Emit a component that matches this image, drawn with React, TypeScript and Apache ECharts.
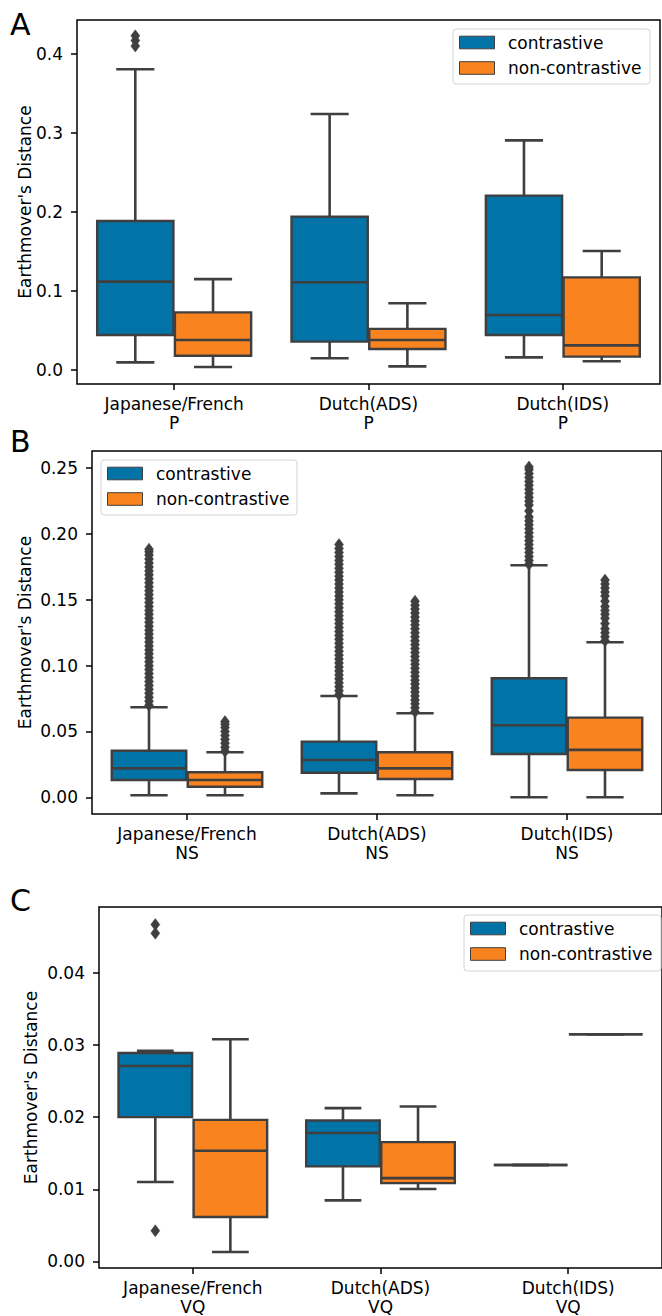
import React, { useEffect, useRef } from "react";
import * as echarts from "echarts";

// ---------- data ----------
const hues = ["contrastive", "non-contrastive"];
const categoriesA = ["Japanese/French\nP", "Dutch(ADS)\nP", "Dutch(IDS)\nP"];
const categoriesB = ["Japanese/French\nNS", "Dutch(ADS)\nNS", "Dutch(IDS)\nNS"];
const categoriesC = ["Japanese/French\nVQ", "Dutch(ADS)\nVQ", "Dutch(IDS)\nVQ"];

const yTicksA = [0, 0.1, 0.2, 0.3, 0.4];
const yTicksB = [0, 0.05, 0.1, 0.15, 0.2, 0.25];
const yTicksC = [0, 0.01, 0.02, 0.03, 0.04];

// [low whisker, Q1, median, Q3, high whisker]
const boxA_contrastive = [
  [0.0097, 0.0443, 0.1118, 0.1886, 0.3806],
  [0.0148, 0.0359, 0.111, 0.194, 0.324],
  [0.016, 0.0443, 0.0696, 0.2207, 0.2907],
];
const boxA_noncontrastive = [
  [0.0038, 0.018, 0.038, 0.073, 0.115],
  [0.0046, 0.0266, 0.038, 0.052, 0.0844],
  [0.011, 0.0169, 0.0312, 0.1173, 0.1506],
];
const boxB_contrastive = [
  [0.0015, 0.0131, 0.022, 0.0354, 0.0684],
  [0.003, 0.0187, 0.0283, 0.0423, 0.077],
  [0.0, 0.0329, 0.0547, 0.0904, 0.1763],
];
const boxB_noncontrastive = [
  [0.0015, 0.008, 0.0131, 0.019, 0.0342],
  [0.0015, 0.0139, 0.022, 0.0342, 0.0638],
  [0.0, 0.0207, 0.036, 0.0605, 0.1178],
];
const boxC_contrastive = [
  [0.011, 0.02, 0.0271, 0.0289, 0.0292],
  [0.00846, 0.01317, 0.0178, 0.01954, 0.02125],
  [0.01336, 0.01336, 0.01336, 0.01336, 0.01336],
];
const boxC_noncontrastive = [
  [0.0013, 0.00615, 0.01534, 0.01963, 0.0308],
  [0.01003, 0.01086, 0.01155, 0.01654, 0.02148],
  [0.0315, 0.0315, 0.0315, 0.0315, 0.0315],
];

// outliers per category
const outA_contrastive = [[0.41, 0.417, 0.423], [], []];
const outA_noncontrastive = [[], [], []];
const outB_contrastive = [
  [0.070, 0.073, 0.076, 0.079, 0.082, 0.085, 0.088, 0.091, 0.094, 0.097, 0.100, 0.103, 0.106, 0.109, 0.112, 0.115, 0.118, 0.121, 0.124, 0.127, 0.130, 0.133, 0.136, 0.139, 0.142, 0.145, 0.148, 0.151, 0.154, 0.157, 0.160, 0.163, 0.166, 0.169, 0.172, 0.175, 0.178, 0.181, 0.184, 0.1865, 0.1885],
  [0.078, 0.081, 0.084, 0.087, 0.090, 0.093, 0.096, 0.099, 0.102, 0.105, 0.108, 0.111, 0.114, 0.117, 0.120, 0.123, 0.126, 0.129, 0.132, 0.135, 0.138, 0.141, 0.144, 0.147, 0.150, 0.153, 0.156, 0.159, 0.162, 0.165, 0.168, 0.171, 0.174, 0.177, 0.180, 0.183, 0.186, 0.189, 0.192],
  [0.177, 0.180, 0.183, 0.186, 0.189, 0.192, 0.195, 0.198, 0.201, 0.204, 0.207, 0.210, 0.213, 0.2175, 0.222, 0.225, 0.228, 0.231, 0.234, 0.237, 0.240, 0.243, 0.246, 0.249, 0.251],
];
const outB_noncontrastive = [
  [0.035, 0.038, 0.041, 0.044, 0.047, 0.050, 0.053, 0.0555, 0.0575],
  [0.065, 0.068, 0.071, 0.074, 0.077, 0.080, 0.083, 0.086, 0.089, 0.092, 0.095, 0.098, 0.101, 0.104, 0.107, 0.110, 0.113, 0.116, 0.119, 0.122, 0.125, 0.128, 0.131, 0.134, 0.137, 0.140, 0.143, 0.146, 0.149],
  [0.119, 0.122, 0.125, 0.128, 0.132, 0.136, 0.139, 0.142, 0.145, 0.149, 0.153, 0.156, 0.159, 0.162, 0.165],
];
const outC_contrastive = [[0.00425, 0.0455, 0.0467], [], []];
const outC_noncontrastive = [[], [], []];

// ---------- styles ----------
const COLORS = ["#0173a6", "#f9831f"];
const LINE = "#3f3f3f";
const FONT = "DejaVu Sans";

const panels = [
  {
    letter: "A", cats: categoriesA, ticks: yTicksA, digits: 1,
    boxes: [boxA_contrastive, boxA_noncontrastive], outs: [outA_contrastive, outA_noncontrastive],
    grid: { left: 77, top: 20, width: 583, height: 364 }, min: -0.01772, max: 0.443, nameGap: 44,
    letterPos: [10, 24.5], legend: { x: 453, y: 29, w: 197, h: 55 },
  },
  {
    letter: "B", cats: categoriesB, ticks: yTicksB, digits: 2,
    boxes: [boxB_contrastive, boxB_noncontrastive], outs: [outB_contrastive, outB_noncontrastive],
    grid: { left: 92, top: 451, width: 570, height: 363 }, min: -0.01269, max: 0.2631, nameGap: 59,
    letterPos: [10, 441], legend: { x: 101, y: 460, w: 196, h: 55 },
  },
  {
    letter: "C", cats: categoriesC, ticks: yTicksC, digits: 2,
    boxes: [boxC_contrastive, boxC_noncontrastive], outs: [outC_contrastive, outC_noncontrastive],
    grid: { left: 99, top: 907, width: 571.5, height: 361.3 }, min: -0.000915, max: 0.04914, nameGap: 60,
    letterPos: [10, 900], legend: { x: 464, y: 915, w: 197, h: 56 },
  },
];

function buildOption() {
  const grid: any[] = [];
  const xAxis: any[] = [];
  const yAxis: any[] = [];
  const series: any[] = [];
  const graphic: any[] = [];

  panels.forEach((p, gi) => {
    grid.push({ ...p.grid, show: true, borderColor: "#000", borderWidth: 1.5, backgroundColor: "transparent" });
    xAxis.push({
      type: "category", gridIndex: gi, data: p.cats, boundaryGap: true,
      axisLine: { show: false, onZero: false },
      axisTick: { show: true, alignWithLabel: true, length: 6, lineStyle: { color: "#000", width: 1.5 } },
      axisLabel: { interval: 0, fontSize: 17, fontFamily: FONT, color: "#000", lineHeight: 19, margin: 10 },
      splitLine: { show: false },
    });
    yAxis.push({
      type: "value", gridIndex: gi, min: p.min, max: p.max,
      axisLine: { show: false, onZero: false },
      axisTick: { show: true, length: 6, customValues: p.ticks, lineStyle: { color: "#000", width: 1.5 } },
      axisLabel: {
        customValues: p.ticks, fontSize: 17, fontFamily: FONT, color: "#000", margin: 14,
        formatter: (v: number) => Number(v).toFixed(p.digits),
      },
      splitLine: { show: false },
      name: "Earthmover's Distance", nameLocation: "middle", nameGap: p.nameGap,
      nameMoveOverlap: false,
      nameTextStyle: { fontSize: 17, fontFamily: FONT, color: "#000" },
    });

    [0, 1].forEach((hi) => {
      const shift = hi === 0 ? -0.2 : 0.2;
      series.push({
        type: "custom", name: hues[hi], xAxisIndex: gi, yAxisIndex: gi,
        data: p.boxes[hi].map((b, ci) => [ci, ...b]),
        encode: { x: 0, y: [1, 2, 3, 4, 5] },
        renderItem: (params: any, api: any) => {
          const cat = api.value(0);
          const band = api.size([1, 0])[0];
          const cx = api.coord([cat, 0])[0] + shift * band;
          const w = band * 0.4 - 1.5;
          const yl = api.coord([cat, api.value(1)])[1];
          const y1 = api.coord([cat, api.value(2)])[1];
          const ym = api.coord([cat, api.value(3)])[1];
          const y3 = api.coord([cat, api.value(4)])[1];
          const yh = api.coord([cat, api.value(5)])[1];
          const ls = { stroke: LINE, lineWidth: 2.6 };
          return {
            type: "group",
            children: [
              { type: "line", shape: { x1: cx, y1: y1, x2: cx, y2: yl }, style: ls },
              { type: "line", shape: { x1: cx, y1: y3, x2: cx, y2: yh }, style: ls },
              { type: "line", shape: { x1: cx - w / 4, y1: yl, x2: cx + w / 4, y2: yl }, style: ls },
              { type: "line", shape: { x1: cx - w / 4, y1: yh, x2: cx + w / 4, y2: yh }, style: ls },
              { type: "rect", shape: { x: cx - w / 2, y: y3, width: w, height: y1 - y3 }, style: { fill: COLORS[hi], stroke: LINE, lineWidth: 2.4 } },
              { type: "line", shape: { x1: cx - w / 2, y1: ym, x2: cx + w / 2, y2: ym }, style: ls },
            ],
          };
        },
      });
      const outData: number[][] = [];
      p.outs[hi].forEach((vals, ci) => vals.forEach((v) => outData.push([ci, v])));
      if (outData.length) {
        series.push({
          type: "custom", name: hues[hi] + " outliers", xAxisIndex: gi, yAxisIndex: gi,
          data: outData, encode: { x: 0, y: 1 }, z: 3,
          renderItem: (params: any, api: any) => {
            const cat = api.value(0);
            const band = api.size([1, 0])[0];
            const pt = api.coord([cat, api.value(1)]);
            const cx = pt[0] + shift * band;
            const y = pt[1];
            return {
              type: "polygon",
              shape: { points: [[cx, y - 6], [cx + 4.5, y], [cx, y + 6], [cx - 4.5, y]] },
              style: { fill: LINE, stroke: LINE, lineWidth: 0.5 },
            };
          },
        });
      }
    });

    graphic.push({
      type: "text", x: p.letterPos[0], y: p.letterPos[1],
      style: { text: p.letter, font: `30px '${FONT}'`, fill: "#000", textAlign: "left", textVerticalAlign: "middle" },
    });
    const L = p.legend;
    graphic.push({
      type: "rect", z: 10, shape: { x: L.x, y: L.y, width: L.w, height: L.h, r: 3 },
      style: { fill: "rgba(255,255,255,0.8)", stroke: "#d4d4d4", lineWidth: 1 },
    });
    hues.forEach((h, hi) => {
      const cy = L.y + 13.5 + hi * 25.5;
      graphic.push({
        type: "rect", z: 11, shape: { x: L.x + 6.5, y: cy - 6.3, width: 35, height: 12.6 },
        style: { fill: COLORS[hi], stroke: LINE, lineWidth: 1 },
      });
      graphic.push({
        type: "text", z: 11, x: L.x + 55, y: cy,
        style: { text: h, font: `17px '${FONT}'`, fill: "#000", textAlign: "left", textVerticalAlign: "middle" },
      });
    });
  });

  return { animation: false, backgroundColor: "#fff", grid, xAxis, yAxis, series, graphic };
}

export default function App() {
  const ref = useRef<HTMLDivElement>(null);
  useEffect(() => {
    if (!ref.current) return;
    const chart = echarts.init(ref.current, undefined, { renderer: "svg" });
    chart.setOption(buildOption() as any);
    return () => chart.dispose();
  }, []);
  return (
    <div
      ref={ref}
      style={{ position: "absolute", left: 0, top: 0, width: 662, height: 1316, background: "#fff" }}
    />
  );
}
